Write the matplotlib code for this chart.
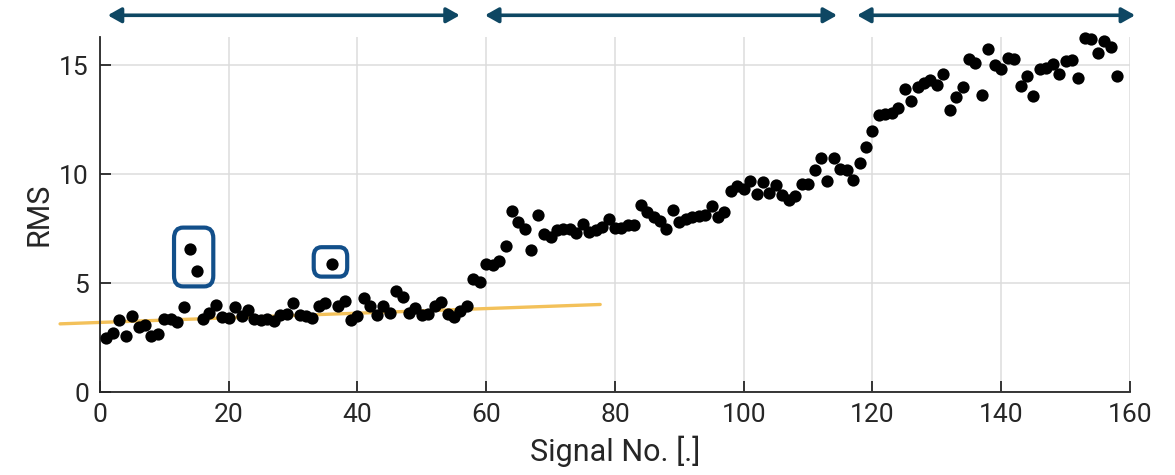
import matplotlib.pyplot as plt
from matplotlib.patches import FancyBboxPatch

plt.rcParams['font.family'] = ['Roboto', 'DejaVu Sans']

# RMS per signal, signals 1..158
rms = [
    2.5, 2.7, 3.3, 2.55, 3.5, 3.0, 3.1, 2.55, 2.65, 3.35,
    3.35, 3.2, 3.9, 6.55, 5.55, 3.35, 3.65, 4.0, 3.45, 3.4,
    3.9, 3.5, 3.75, 3.35, 3.3, 3.35, 3.25, 3.55, 3.6, 4.1,
    3.55, 3.5, 3.4, 3.95, 4.1, 5.9, 3.95, 4.2, 3.3, 3.5,
    4.3, 3.95, 3.55, 3.95, 3.65, 4.65, 4.35, 3.65, 3.85, 3.55,
    3.6, 3.95, 4.15, 3.6, 3.45, 3.7, 3.95,
    5.2, 5.05, 5.9, 5.85, 6.0, 6.7, 8.3, 7.8, 7.5, 6.5,
    8.15, 7.25, 7.1, 7.45, 7.5, 7.5, 7.3, 7.7, 7.35, 7.45,
    7.6, 7.95, 7.55, 7.55, 7.65, 7.65, 8.6, 8.25, 8.05, 7.85,
    7.5, 8.35, 7.8, 7.95, 8.05, 8.1, 8.15, 8.55, 8.05, 8.25,
    9.25, 9.45, 9.3, 9.7, 9.1, 9.65, 9.15, 9.5, 9.05, 8.8,
    9.0, 9.55, 9.55, 10.2, 10.75, 9.7, 10.75, 10.25, 10.2, 9.75,
    10.5, 11.25, 12.0, 12.7, 12.75, 12.8, 13.05, 13.9, 13.35, 14.0,
    14.2, 14.35, 14.1, 14.6, 12.95, 13.55, 14.0, 15.3, 15.1, 13.65,
    15.75, 15.0, 14.85, 15.35, 15.3, 14.05, 14.5, 13.6, 14.85, 14.9,
    15.05, 14.6, 15.2, 15.25, 14.4, 16.25, 16.2, 15.55, 16.1, 15.85,
    14.5,
]
signal_no = list(range(1, len(rms) + 1))

# trend line of the first phase
trend_x = [-6.2, 77.7]
trend_y = [3.13, 4.02]

# phases marked on top
phase_start = [1.2, 59.8, 117.6]
phase_end = [55.9, 114.5, 160.8]

fig = plt.figure(figsize=(11.75, 4.75), dpi=100)
ax = fig.add_axes([0.0851, 0.1747, 0.8766, 0.7473])

ax.scatter(signal_no, rms, s=78, color='black', zorder=3, linewidths=0,
           clip_on=False)
ax.plot(trend_x, trend_y, color='#F3C15A', lw=2.4, zorder=2, clip_on=False,
        solid_capstyle='round')

# hand-drawn highlight boxes around outliers
ring_color = '#124F8A'
ax.add_patch(FancyBboxPatch((11.5, 4.85), 6.1, 2.7,
                            boxstyle='round,pad=0,rounding_size=1.4',
                            fill=False, ec=ring_color, lw=3.0, zorder=4,
                            mutation_aspect=0.35))
ax.add_patch(FancyBboxPatch((33.2, 5.3), 5.2, 1.35,
                            boxstyle='round,pad=0,rounding_size=1.2',
                            fill=False, ec=ring_color, lw=3.0, zorder=4,
                            mutation_aspect=0.35))

for x0, x1 in zip(phase_start, phase_end):
    ax.annotate('', xy=(x0, 17.3), xytext=(x1, 17.3),
                xycoords='data', textcoords='data',
                arrowprops=dict(arrowstyle='<|-|>,head_length=0.8,head_width=0.45',
                                color='#0E4763', lw=2.6,
                                shrinkA=0, shrinkB=0),
                annotation_clip=False)

ax.set_xlim(0, 160)
ax.set_ylim(0, 16.3)
ax.set_xticks(range(0, 161, 20))
ax.set_yticks([0, 5, 10, 15])
ax.grid(True, color='#DCDCDC', lw=1.1)
ax.set_axisbelow(True)
for side in ['top', 'right']:
    ax.spines[side].set_visible(False)
for side in ['left', 'bottom']:
    ax.spines[side].set_color('#262626')
    ax.spines[side].set_linewidth(1.3)
ax.tick_params(direction='in', length=8, width=1.3, color='#262626',
               labelsize=19, labelcolor='#262626', pad=8)

ax.set_xlabel('Signal No. [.]', fontsize=22, color='#262626', labelpad=6)
ax.set_ylabel('RMS', fontsize=22, color='#262626', labelpad=4)

fig.savefig('out.png', dpi=100)
